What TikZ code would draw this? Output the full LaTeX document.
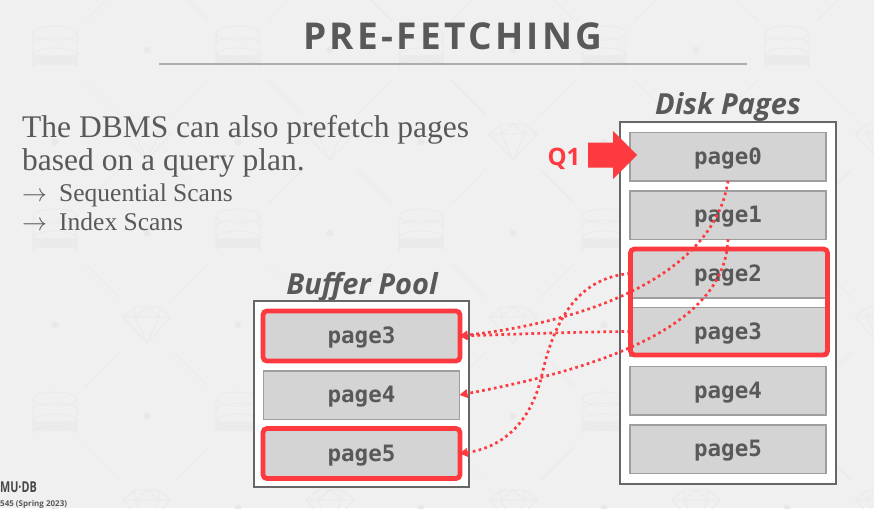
\documentclass[tikz,border=0pt]{standalone}
\usepackage{fontspec}
\setmainfont{Open Sans}
\newfontfamily\serifface{Liberation Serif}
\newfontfamily\pageface{DejaVu Sans Mono}
\newfontfamily\titleface[LetterSpace=9]{Open Sans}
\usetikzlibrary{arrows.meta}
\definecolor{slidebg}{HTML}{F0F0F0}
\definecolor{slidetext}{HTML}{595959}
\definecolor{markred}{HTML}{FC3A3F}
\definecolor{wmark}{HTML}{E9E9E9}
\tikzset{
	headtext/.style={text=slidetext, font=\fontsize{29}{29}\selectfont\bfseries\itshape, inner sep=0pt},
	bodytext/.style={text=slidetext, anchor=base west, inner sep=0pt},
	outerbox/.style={draw=black!60, line width=2.2pt, fill=white},
	pagebox/.style={draw=black!38, line width=1.5pt, fill=black!17, minimum width=196pt, minimum height=48.5pt, outer sep=0pt, inner sep=0pt, text=slidetext, text height=20pt, text depth=5pt, font=\pageface\fontsize{22.5}{23}\selectfont\bfseries},
	markbox/.style={draw=markred, line width=4.8pt, rounded corners=4pt, inner sep=0pt, outer sep=0pt},
	fetchline/.style={draw=markred, line width=2.7pt, dash pattern=on 2.7pt off 3.3pt, -{Triangle[length=8pt,width=8.5pt]}},
	wline/.style={draw=wmark, line width=0.7pt}
}
\def\cylmark(#1,#2){
	\fill[black!2!slidebg] (#1-22,#2+5) rectangle (#1+22,#2+15);
	\draw[wline] (#1,#2-17) ellipse (22 and 7);
	\draw[wline] (#1-22,#2-17) -- (#1-22,#2+17) arc (180:360:22 and 7) -- (#1+22,#2-17);
	\draw[wline] (#1-22,#2-6) arc (180:360:22 and 7);
	\draw[wline] (#1-22,#2+5) arc (180:360:22 and 7);
}
\def\gemmark(#1,#2){
	\draw[wline] (#1-24,#2-8) -- (#1-12,#2-18) -- (#1+12,#2-18) -- (#1+24,#2-8) -- (#1,#2+18) -- cycle;
	\draw[wline] (#1-24,#2-8) -- (#1+24,#2-8) (#1-12,#2-8) -- (#1,#2+18) -- (#1+12,#2-8) (#1-12,#2-18) -- (#1-12,#2-8) -- (#1,#2-18) -- (#1+12,#2-8) -- (#1+12,#2-18);
	\draw[wline] (#1-62,#2-62) -- (#1-27,#2-27) (#1+62,#2-62) -- (#1+27,#2-27);
	\draw[wline] (#1-62,#2+62) -- (#1-27,#2+27) (#1+62,#2+62) -- (#1+27,#2+27);
}

\begin{document}
\begin{tikzpicture}[x=1pt,y=-1pt]
	\useasboundingbox (0,0) rectangle (874,508);
	\clip (0,0) rectangle (874,508);
	\fill[slidebg] (0,0) rectangle (874,508);

	% background marks
	\foreach \i in {0,...,4}{
		\foreach \j in {0,1,2}{
			\pgfmathsetmacro{\cx}{55+183*\i}
			\pgfmathsetmacro{\cy}{50+183*\j}
			\pgfmathsetmacro{\dx}{147+183*\i}
			\pgfmathsetmacro{\dy}{142+183*\j}
			\cylmark(\cx,\cy)
			\fill[wmark] (\dx,\cy) circle (3.5);
			\fill[wmark] (\cx,\dy) circle (3.5);
		}
		\foreach \j in {-1,0,1,2}{
			\pgfmathsetmacro{\dx}{147+183*\i}
			\pgfmathsetmacro{\dy}{142+183*\j}
			\gemmark(\dx,\dy)
		}
	}

	% title
	\node[text=slidetext, font=\titleface\fontsize{37}{37}\selectfont\bfseries, inner sep=0pt] (title) at (453,36) {PRE-FETCHING};
	\coordinate (ruleL) at (159,64);
	\coordinate (ruleR) at (747,64);
	\draw[black!32, line width=1.5pt] (ruleL) -- (ruleR);

	% left text
	\node[bodytext, font=\serifface\fontsize{31.5}{32}\selectfont] (line1) at (22,137) {The DBMS can also prefetch pages};
	\node[bodytext, font=\serifface\fontsize{31.5}{32}\selectfont] (line2) at (22,170) {based on a query plan.};
	\node[bodytext, font=\serifface\fontsize{25.5}{26}\selectfont] (arrow1) at (22,201) {$\rightarrow$};
	\node[bodytext, font=\serifface\fontsize{25.5}{26}\selectfont] (item1) at (59,201) {Sequential Scans};
	\node[bodytext, font=\serifface\fontsize{25.5}{26}\selectfont] (arrow2) at (22,230) {$\rightarrow$};
	\node[bodytext, font=\serifface\fontsize{25.5}{26}\selectfont] (item2) at (59,230) {Index Scans};

	% footer
	\node[text=slidetext!80!black, anchor=base west, inner sep=0pt, xscale=0.72, font=\fontsize{15}{15}\selectfont\bfseries] (logo) at (0,492) {MU·DB};
	\node[text=slidetext, anchor=base west, inner sep=0pt, font=\fontsize{8}{8}\selectfont\bfseries] (course) at (0,506) {545 (Spring 2023)};

	% disk pages
	\node[headtext] (disktitle) at (728,107) {Disk Pages};
	\draw[outerbox] (620,122) rectangle (836,484);
	\node[pagebox] (disk0) at (728,156.5) {page0};
	\node[pagebox] (disk1) at (728,215) {page1};
	\node[pagebox] (disk2) at (728,273.5) {page2};
	\node[pagebox] (disk3) at (728,331.5) {page3};
	\node[pagebox] (disk4) at (728,390.5) {page4};
	\node[pagebox] (disk5) at (728,449) {page5};

	% buffer pool
	\node[headtext] (pooltitle) at (362,286.5) {Buffer Pool};
	\draw[outerbox] (254,301) rectangle (469,487);
	\node[pagebox] (pool3) at (361.5,336) {page3};
	\node[pagebox] (pool4) at (361.5,395) {page4};
	\node[pagebox] (pool5) at (361.5,453.5) {page5};

	% highlights
	\node[markbox, minimum width=197pt, minimum height=106pt] (diskmark) at (729,302) {};
	\node[markbox, minimum width=197pt, minimum height=50pt] (poolmark3) at (361.5,336) {};
	\node[markbox, minimum width=197pt, minimum height=50pt] (poolmark5) at (361.5,453.5) {};

	% query cursor
	\node[text=markred, font=\fontsize{24}{24}\selectfont\bfseries, inner sep=0pt] (q1) at (564,159) {Q1};
	\fill[markred] (588,142.5) -- (613,142.5) -- (613,131) -- (637,155) -- (613,179) -- (613,167.5) -- (588,167.5) -- cycle;

	% fetch lines
	\coordinate (bendC) at (543,370);
	\draw[fetchline] (disk0.south) .. controls (715,270) and (600,320) .. (pool3.east);
	\draw[fetchline] (disk1.south) .. controls (725,320) and (620,365) .. (pool4.east);
	\draw[fetchline] (disk2.west) .. controls (575,278) and (554,325) .. (bendC) .. controls (532,425) and (500,448) .. (pool5.east);
	\draw[fetchline] (disk3.west) .. controls (570,332) and (520,334) .. (pool3.east);
\end{tikzpicture}
\end{document}
